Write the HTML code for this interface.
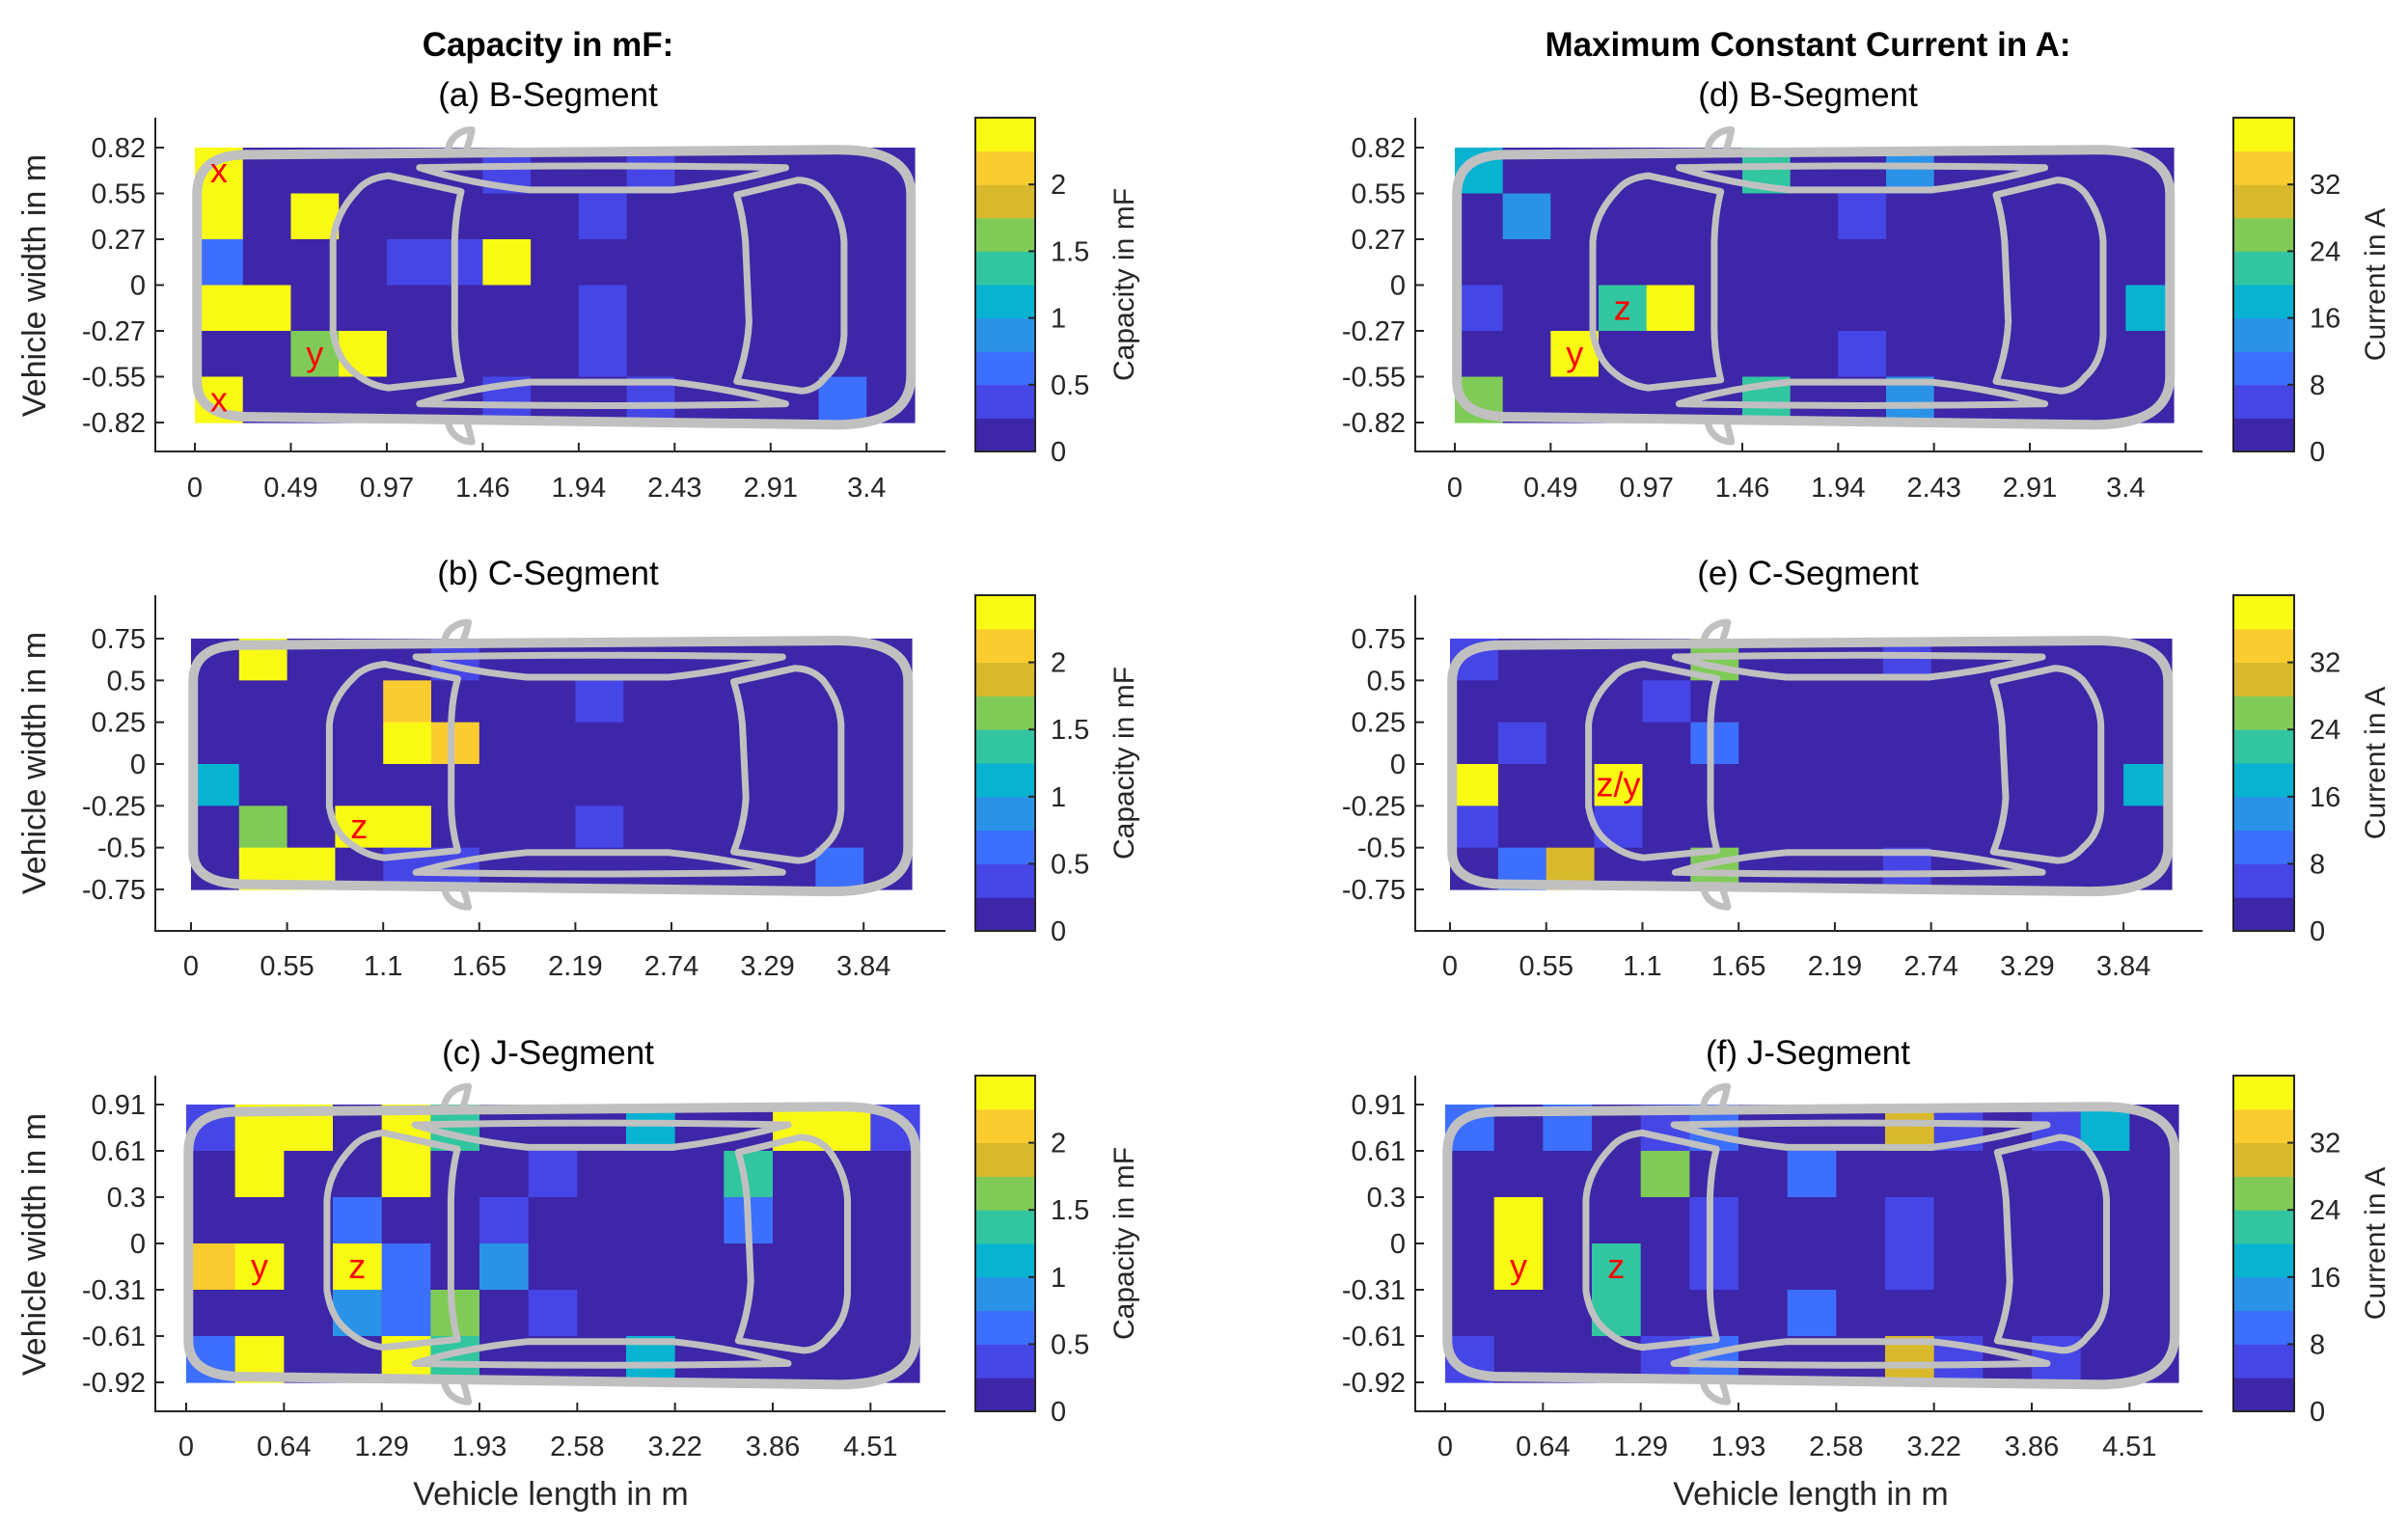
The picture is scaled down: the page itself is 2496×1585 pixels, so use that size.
<!DOCTYPE html>
<html><head><meta charset="utf-8"><style>
html,body{margin:0;padding:0;background:#fff;}
svg{display:block;font-family:"Liberation Sans",Arial,sans-serif;}
</style></head><body>
<svg id="fig" width="2496" height="1585" viewBox="0 0 2496 1585" xmlns="http://www.w3.org/2000/svg">
<text x="568" y="58" font-size="35" font-weight="bold" text-anchor="middle" fill="#000">Capacity in mF:</text>
<text x="1874" y="58" font-size="35" font-weight="bold" text-anchor="middle" fill="#000">Maximum Constant Current in A:</text>
</svg>
<script>
// ---- chart data ----
const capTicks = [0, 0.5, 1, 1.5, 2];
const capMax = [2.5];
const curTicks = [0, 8, 16, 24, 32];
const curMax = [40];
const xTicksB = ["0","0.49","0.97","1.46","1.94","2.43","2.91","3.4"];
const xTicksC = ["0","0.55","1.1","1.65","2.19","2.74","3.29","3.84"];
const xTicksJ = ["0","0.64","1.29","1.93","2.58","3.22","3.86","4.51"];
const yTicksB = ["0.82","0.55","0.27","0","-0.27","-0.55","-0.82"];
const yTicksC = ["0.75","0.5","0.25","0","-0.25","-0.5","-0.75"];
const yTicksJ = ["0.91","0.61","0.3","0","-0.31","-0.61","-0.92"];
const capB = [
[2.4,0.1,0.1,0.1,0.1,0.1,0.4,0.1,0.1,0.4,0.1,0.1,0.1,0.1,0.1],
[2.4,0.1,2.4,0.1,0.1,0.1,0.1,0.1,0.4,0.1,0.1,0.1,0.1,0.1,0.1],
[0.6,0.1,0.1,0.1,0.4,0.4,2.4,0.1,0.1,0.1,0.1,0.1,0.1,0.1,0.1],
[2.4,2.4,0.1,0.1,0.1,0.1,0.1,0.1,0.4,0.1,0.1,0.1,0.1,0.1,0.1],
[0.1,0.1,1.6,2.4,0.1,0.1,0.1,0.1,0.4,0.1,0.1,0.1,0.1,0.1,0.1],
[2.4,0.1,0.1,0.1,0.1,0.1,0.4,0.1,0.1,0.4,0.1,0.1,0.1,0.6,0.1]];
const capC = [
[0.1,2.4,0.1,0.1,0.1,0.4,0.1,0.1,0.1,0.1,0.1,0.1,0.1,0.1,0.1],
[0.1,0.1,0.1,0.1,2.1,0.1,0.1,0.1,0.4,0.1,0.1,0.1,0.1,0.1,0.1],
[0.1,0.1,0.1,0.1,2.4,2.1,0.1,0.1,0.1,0.1,0.1,0.1,0.1,0.1,0.1],
[1.1,0.1,0.1,0.1,0.1,0.1,0.1,0.1,0.1,0.1,0.1,0.1,0.1,0.1,0.1],
[0.1,1.6,0.1,2.4,2.4,0.1,0.1,0.1,0.4,0.1,0.1,0.1,0.1,0.1,0.1],
[0.1,2.4,2.4,0.1,0.4,0.4,0.1,0.1,0.1,0.1,0.1,0.1,0.1,0.6,0.1]];
const capJ = [
[0.4,2.4,2.4,0.1,2.4,1.4,0.1,0.1,0.1,1.1,0.1,0.1,2.4,2.4,0.4],
[0.1,2.4,0.1,0.1,2.4,0.1,0.1,0.4,0.1,0.1,0.1,1.4,0.1,0.1,0.1],
[0.1,0.1,0.1,0.6,0.1,0.1,0.4,0.1,0.1,0.1,0.1,0.6,0.1,0.1,0.1],
[2.1,2.4,0.1,2.4,0.6,0.1,0.9,0.1,0.1,0.1,0.1,0.1,0.1,0.1,0.1],
[0.1,0.1,0.1,0.9,0.6,1.6,0.1,0.4,0.1,0.1,0.1,0.1,0.1,0.1,0.1],
[0.6,2.4,0.1,0.1,2.4,1.4,0.1,0.1,0.1,1.1,0.1,0.1,0.1,0.1,0.1]];
const curB = [
[18,1,1,1,1,1,22,1,1,14,1,1,1,1,1],
[1,14,1,1,1,1,1,1,6,1,1,1,1,1,1],
[1,1,1,1,1,1,1,1,1,1,1,1,1,1,1],
[6,1,1,22,38,1,1,1,1,1,1,1,1,1,18],
[1,1,38,1,1,1,1,1,6,1,1,1,1,1,1],
[26,1,1,1,1,1,22,1,1,14,1,1,1,1,1]];
const curC = [
[6,1,1,1,1,26,1,1,1,6,1,1,1,1,1],
[1,1,1,1,6,1,1,1,1,1,1,1,1,1,1],
[1,6,1,1,1,10,1,1,1,1,1,1,1,1,1],
[38,1,1,38,1,1,1,1,1,1,1,1,1,1,18],
[6,1,1,6,1,1,1,1,1,1,1,1,1,1,1],
[1,10,30,1,1,26,1,1,1,6,1,1,1,1,1]];
const curJ = [
[10,1,10,1,6,10,1,1,1,30,6,1,6,18,1],
[1,1,1,1,26,1,1,10,1,1,1,1,1,1,1],
[1,38,1,1,1,6,1,1,1,6,1,1,1,1,1],
[1,38,1,22,1,6,1,1,1,6,1,1,1,1,1],
[1,1,1,22,1,1,1,10,1,1,1,1,1,1,1],
[6,1,1,1,6,10,1,1,1,30,6,1,6,1,1]];
const parula = ["#3e26a8","#4646e6","#3c6ffd","#2a93e7","#07b3d0","#32c6a0","#80cb58","#d8b92c","#fbcc30","#f9fa14"];

const NS = "http://www.w3.org/2000/svg";
const svg = document.getElementById("fig");
function mk(tag, attrs, parent) {
  const e = document.createElementNS(NS, tag);
  for (const k in attrs) e.setAttribute(k, attrs[k]);
  (parent || svg).appendChild(e);
  return e;
}
function colorOf(v, max) {
  let l = Math.floor(v / max * 10);
  if (l < 0) l = 0; if (l > 9) l = 9;
  return parula[l];
}
const car = {
  outer: "M.068,.026 L.885,.008 Q.995,.0 .995,.17 L.995,.83 Q.995,1.012 .885,1.008 L.068,.979 Q.003,.97 .003,.85 L.003,.17 Q.003,.03 .068,.026 Z",
  mirT: "M.352,.005 C.355,-.04 .37,-.065 .385,-.065 L.382,-.03 L.378,.005",
  mirB: "M.352,1.0 C.355,1.045 .37,1.07 .385,1.07 L.382,1.035 L.378,1.0",
  front: "M.370,.160 L.269,.102 Q.240,.110 .226,.155 Q.195,.24 .192,.342 L.192,.669 Q.197,.76 .217,.808 Q.240,.865 .269,.874 L.370,.845 Q.360,.74 .361,.634 L.361,.342 Q.362,.24 .370,.160 Z",
  sideT: "M.312,.073 Q.56,.060 .821,.073 Q.74,.13 .663,.154 L.466,.154 Q.38,.13 .312,.073 Z",
  sideB: "M.312,.932 Q.56,.945 .821,.932 Q.74,.875 .663,.853 L.466,.853 Q.38,.875 .312,.932 Z",
  rear: "M.753,.172 L.838,.118 Q.862,.12 .877,.166 Q.900,.25 .902,.342 L.902,.681 Q.900,.78 .877,.833 Q.862,.885 .842,.885 L.753,.850 Q.768,.74 .770,.634 L.765,.342 Q.762,.25 .753,.172 Z"
};
function mapPath(d, x0, y0, w, h) {
  return d.replace(/(-?\d*\.?\d+),(-?\d*\.?\d+)|(-?\d*\.?\d+) (-?\d*\.?\d+)/g, function(m, a, b, c, e) {
    const u = parseFloat(a !== undefined ? a : c), v = parseFloat(a !== undefined ? b : e);
    return (x0 + u * w).toFixed(1) + "," + (y0 + v * h).toFixed(1);
  });
}
const rows = [
  {axT:122, axB:468, hy0:153, hy1:438, tickY:505, titleY:110, ylabY:296},
  {axT:617, axB:965, hy0:662, hy1:922, tickY:1001, titleY:606, ylabY:791},
  {axT:1115, axB:1463, hy0:1145, hy1:1433, tickY:1499, titleY:1103, ylabY:1290}
];
const panels = [
  {id:"a", title:"(a) B-Segment", data:capB, max:capMax[0], xt:xTicksB, yt:yTicksB, row:0, col:0, hx0:202, hx1:948, marks:[["x",0,0],["x",0,5],["y",2,4]]},
  {id:"b", title:"(b) C-Segment", data:capC, max:capMax[0], xt:xTicksC, yt:yTicksC, row:1, col:0, hx0:198, hx1:945, marks:[["z",3,4]]},
  {id:"c", title:"(c) J-Segment", data:capJ, max:capMax[0], xt:xTicksJ, yt:yTicksJ, row:2, col:0, hx0:193, hx1:953, marks:[["y",1,3],["z",3,3]]},
  {id:"d", title:"(d) B-Segment", data:curB, max:curMax[0], xt:xTicksB, yt:yTicksB, row:0, col:1, hx0:1508, hx1:2253, marks:[["y",2,4],["z",3,3]]},
  {id:"e", title:"(e) C-Segment", data:curC, max:curMax[0], xt:xTicksC, yt:yTicksC, row:1, col:1, hx0:1503, hx1:2251, marks:[["z/y",3,3]]},
  {id:"f", title:"(f) J-Segment", data:curJ, max:curMax[0], xt:xTicksJ, yt:yTicksJ, row:2, col:1, hx0:1498, hx1:2258, marks:[["y",1,3],["z",3,3]]}
];
const cols = [
  {axL:161, axR:980, cbL:1011, cbR:1073, center:568, ticks:capTicks, cmax:capMax[0], clabel:"Capacity in mF", clabX:1165},
  {axL:1467, axR:2283, cbL:2315, cbR:2378, center:1874, ticks:curTicks, cmax:curMax[0], clabel:"Current in A", clabX:2462}
];
panels.forEach(function(p) {
  const R = rows[p.row], C = cols[p.col];
  const nR = p.data.length, nC = p.data[0].length;
  const g = mk("g", {});
  
  
  const xs = function(i) { return p.hx0 + i / nC * (p.hx1 - p.hx0); };
  const ys = function(j) { return R.hy0 + j / nR * (R.hy1 - R.hy0); };
  // cells
  for (let j = 0; j < nR; j++) for (let i = 0; i < nC; i++) {
    const r = mk("rect", {x:xs(i).toFixed(2), y:ys(j).toFixed(2), width:(xs(i+1)-xs(i)+0.6).toFixed(2), height:(ys(j+1)-ys(j)+0.6).toFixed(2), fill:colorOf(p.data[j][i], p.max)}, g);
    
    
  }
  // car outline
  const w = p.hx1 - p.hx0, h = R.hy1 - R.hy0;
  for (const k in car) {
    const pa = mk("path", {d:mapPath(car[k], p.hx0, R.hy0, w, h), fill:"none", stroke:"#c0c0c0", "stroke-width": k === "outer" ? 10 : 7, "stroke-linejoin":"round", "stroke-linecap":"round"}, g);
    
    
  }
  // marker letters
  p.marks.forEach(function(m) {
    const t = mk("text", {x:((xs(m[1])+xs(m[1]+1))/2).toFixed(1), y:((ys(m[2])+ys(m[2]+1))/2 + 12).toFixed(1), "font-size":36, fill:"#ff0000", "text-anchor":"middle"}, g);
    t.textContent = m[0];
    
    
  });
  // axes
  const ax = mk("path", {d:"M"+C.axL+","+R.axT+" L"+C.axL+","+R.axB+" L"+C.axR+","+R.axB, fill:"none", stroke:"#262626", "stroke-width":2}, g);
  
  
  p.xt.forEach(function(lbl, k) {
    const x = xs(k * 2);
    const tk = mk("line", {x1:x, x2:x, y1:R.axB, y2:R.axB - 9, stroke:"#262626", "stroke-width":2}, g);
    
    
    const t = mk("text", {x:x, y:R.tickY + 10, "font-size":29, fill:"#262626", "text-anchor":"middle"}, g);
    t.textContent = lbl;
    
    
  });
  p.yt.forEach(function(lbl, k) {
    const y = ys(k);
    const tk = mk("line", {x1:C.axL, x2:C.axL + 9, y1:y, y2:y, stroke:"#262626", "stroke-width":2}, g);
    
    
    const t = mk("text", {x:C.axL - 10, y:y + 10, "font-size":29, fill:"#262626", "text-anchor":"end"}, g);
    t.textContent = lbl;
    
    
  });
  const tt = mk("text", {x:C.center, y:R.titleY, "font-size":35, fill:"#000", "text-anchor":"middle"}, g);
  tt.textContent = p.title;
  
  
  if (p.col === 0) {
    const yl = mk("text", {x:0, y:0, "font-size":34, fill:"#262626", "text-anchor":"middle", transform:"translate(47," + R.ylabY + ") rotate(-90)"}, g);
    yl.textContent = "Vehicle width in m";
    
    
  }
  if (p.row === 2) {
    const xl = mk("text", {x:C.center + 3, y:1560, "font-size":34, fill:"#262626", "text-anchor":"middle"}, g);
    xl.textContent = "Vehicle length in m";
    
    
  }
  // colorbar
  const cb = mk("g", {}, g);
  
  
  const cy = function(v) { return R.axB - v / C.cmax * (R.axB - R.axT); };
  for (let l = 0; l < 10; l++) {
    const v0 = l * C.cmax / 10, v1 = (l + 1) * C.cmax / 10;
    const r = mk("rect", {x:C.cbL, y:cy(v1).toFixed(2), width:C.cbR - C.cbL, height:(cy(v0) - cy(v1) + 0.5).toFixed(2), fill:parula[l]}, cb);
    
    
  }
  const fr = mk("rect", {x:C.cbL, y:R.axT, width:C.cbR - C.cbL, height:R.axB - R.axT, fill:"none", stroke:"#262626", "stroke-width":2}, cb);
  
  
  C.ticks.forEach(function(v) {
    const y = cy(v);
    const tk = mk("line", {x1:C.cbR - 7, x2:C.cbR, y1:y, y2:y, stroke:"#262626", "stroke-width":2}, cb);
    
    
    const t = mk("text", {x:C.cbR + 16, y:y + 10, "font-size":29, fill:"#262626"}, cb);
    t.textContent = String(v);
    
    
  });
  const cl = mk("text", {x:0, y:0, "font-size":30, fill:"#262626", "text-anchor":"middle", transform:"translate(" + (C.clabX + 10) + "," + ((R.axT + R.axB) / 2) + ") rotate(-90)"}, cb);
  cl.textContent = C.clabel;
  
  
});
</script>
</body></html>
